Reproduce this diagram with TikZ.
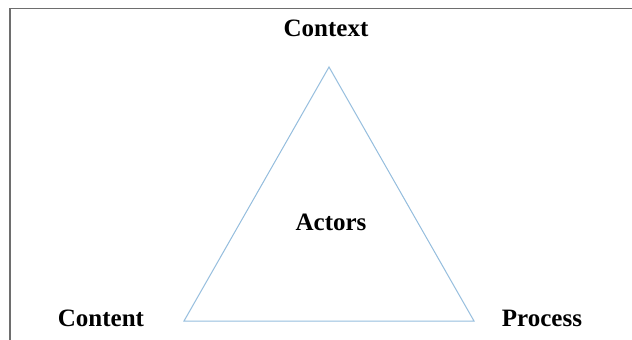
\documentclass[tikz,border=0pt]{standalone}
\usepackage{fontspec}
\setmainfont{Liberation Serif}
\definecolor{tri}{RGB}{150,190,222}
\definecolor{frame}{RGB}{110,110,110}
\begin{document}
\begin{tikzpicture}[x=1pt,y=-1pt,
  lbl/.style={font=\fontsize{25}{28}\selectfont\bfseries, inner sep=0pt},
  edge/.style={draw=tri, line width=1pt}]
\useasboundingbox (0,0) rectangle (632,340);
\fill[white] (0,0) rectangle (632,340);
\draw[frame, line width=1.6pt] (10,340) -- (10,8.5) -- (632,8.5);
\coordinate (A) at (329,67);
\coordinate (B) at (184,321);
\coordinate (C) at (474,321);
\draw[edge] (A) -- (B) -- (C) -- cycle;
\node[lbl] (ctx) at (326,28) {Context};
\node[lbl] (act) at (331,222) {Actors};
\node[lbl] (cnt) at (101,318) {Content};
\node[lbl] (prc) at (542,318) {Process};
\end{tikzpicture}
\end{document}
